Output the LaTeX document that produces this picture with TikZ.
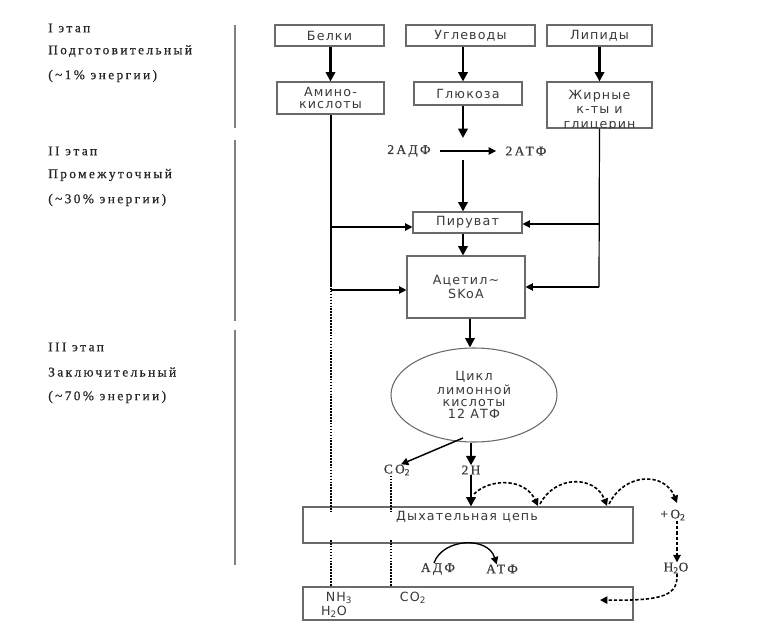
\documentclass[tikz,border=0pt]{standalone}
\usepackage{fontspec}
\usetikzlibrary{arrows.meta,shapes.geometric}
\newfontfamily\labfont[LetterSpace=18,FakeBold=0.6]{Liberation Serif}
\newfontfamily\boxfont[LetterSpace=9]{DejaVu Sans}
\definecolor{ink}{HTML}{3A3A3A}
\definecolor{boxline}{HTML}{6A6A6A}
\tikzset{
  stagetext/.style={anchor=west,inner sep=0pt,text=black!85,font=\labfont\fontsize{10}{12}\selectfont},
  stageline/.style={draw=gray,line width=1.2pt},
  blk/.style={draw=boxline,line width=0.8pt,text=ink,inner sep=1pt,align=center,
    font=\boxfont\fontsize{9.5}{11}\selectfont},
  serl/.style={inner sep=0pt,text=ink,font=\labfont\fontsize{10}{12}\selectfont},
  thickarr/.style={line width=1.8pt,-{Triangle[length=7pt,width=7pt]}},
  thinarr/.style={line width=0.9pt,-{Triangle[length=5.5pt,width=5.5pt]}},
  plainln/.style={line width=0.9pt},
  dotln/.style={line width=1.7pt,dash pattern=on 1.2pt off 1pt},
  dasharr/.style={line width=1.2pt,dash pattern=on 2.5pt off 1.5pt,-{Triangle[length=5.5pt,width=5.5pt]}},
}
\begin{document}
\begin{tikzpicture}[x=0.75pt,y=-0.75pt]
\useasboundingbox[fill=white] (0,0) rectangle (761,639);
% stage labels
\node[stagetext] (s1a) at (48,28) {I этап};
\node[stagetext] (s1b) at (48,51) {Подготовительный};
\node[stagetext] (s1c) at (48,76) {(\textasciitilde1\% энергии)};
\node[stagetext] (s2a) at (48,151) {II этап};
\node[stagetext] (s2b) at (48,175) {Промежуточный};
\node[stagetext] (s2c) at (48,200) {(\textasciitilde30\% энергии)};
\node[stagetext] (s3a) at (48,347) {III этап};
\node[stagetext] (s3b) at (48,372) {Заключительный};
\node[stagetext] (s3c) at (48,397) {(\textasciitilde70\% энергии)};
\coordinate (l1a) at (235,25); \coordinate (l1b) at (235,128);
\coordinate (l2a) at (235,140); \coordinate (l2b) at (235,321);
\coordinate (l3a) at (235,330); \coordinate (l3b) at (235,565);
\draw[stageline] (l1a) -- (l1b);
\draw[stageline] (l2a) -- (l2b);
\draw[stageline] (l3a) -- (l3b);
% boxes
\node[blk,minimum width={109*0.75},minimum height={21*0.75}] (bel) at (329.5,35.5) {Белки};
\node[blk,minimum width={129*0.75},minimum height={21*0.75}] (ugl) at (470.5,35.5) {Углеводы};
\node[blk,minimum width={105*0.75},minimum height={21*0.75}] (lip) at (599.5,35.5) {Липиды};
\node[blk,minimum width={107*0.75},minimum height={32*0.75}] (ami) at (330.5,98) {Амино-\\[-2pt]кислоты};
\node[blk,minimum width={108*0.75},minimum height={23*0.75}] (glu) at (468,93.5) {Глюкоза};
\node[blk,minimum width={105*0.75},minimum height={46*0.75}] (fat) at (599.5,105) {};
\begin{scope}
\clip (fat.south west) rectangle (fat.north east);
\node[blk,draw=none,anchor=north,font=\boxfont\fontsize{9.5}{11}\selectfont] (fattext) at ([yshift=-5]fat.north) {Жирные\\к-ты и\\глицерин};
\end{scope}
\node[blk,minimum width={109*0.75},minimum height={21*0.75}] (pyr) at (467.5,222.5) {Пируват};
\node[blk,minimum width={118*0.75},minimum height={62*0.75}] (ace) at (466,287) {Ацетил\textasciitilde\\SKoA};
\node[blk,ellipse,minimum width={166*0.75},minimum height={94*0.75},inner sep=0pt] (cyc) at (474,395) {Цикл\\[-1pt]лимонной\\[-2pt]кислоты\\[-2pt]12 АТФ};
\node[blk,minimum width={330*0.75},minimum height={36*0.75}] (resp) at (468,525) {};
\node[blk,draw=none,anchor=north] (resptext) at (467,509) {Дыхательная цепь};
\node[blk,minimum width={330*0.75},minimum height={33*0.75}] (fin) at (468,603.5) {};
\node[blk,draw=none,inner sep=0pt] (nh3) at (339,598) {NH\textsubscript{3}};
\node[blk,draw=none,inner sep=0pt] (h2ob) at (334,612) {H\textsubscript{2}O};
\node[blk,draw=none,inner sep=0pt] (co2b) at (413,598) {CO\textsubscript{2}};
% serif labels
\node[serl] (adp2) at (409,151) {2АДФ};
\node[serl] (atp2) at (526,151) {2АТФ};
\node[serl] (co2) at (397,470) {CO\textsubscript{2}};
\node[serl] (h2) at (471,470) {2H};
\node[serl] (adp) at (438,569) {АДФ};
\node[serl] (atp) at (502,569) {АТФ};
\node[serl] (o2) at (673,515) {+O\textsubscript{2}};
\node[serl] (h2o) at (676,568) {H\textsubscript{2}O};
% top arrows
\draw[thickarr] (bel.south -| ami.north) -- (ami.north);
\draw[thickarr] (ugl.south -| 463,0) -- (glu.north -| 463,0);
\draw[thickarr] (lip) -- (fat);
\coordinate (g1) at (463,138);
\coordinate (g2) at (463,160);
\draw[thickarr] (glu.south -| g1) -- (g1);
\draw[thinarr] ([xshift=7]adp2.east) -- ([xshift=-7]atp2.west);
\draw[thickarr] (g2) -- (pyr.north -| g2);
\draw[thickarr] (pyr.south -| g2) -- (ace.north -| g2);
\coordinate (ac1) at (470,0);
\draw[thickarr] (ace.south -| ac1) -- (cyc.north -| ac1);
% left amino line
\coordinate (am1) at (331,285);
\coordinate (am2) at (331,513);
\coordinate (am3) at (331,540);
\draw[plainln] (ami.south -| am1) -- (am1);
\draw[dotln] (am1) -- (am2);
\draw[dotln] (am3) -- (fin.north -| am3);
\draw[thinarr] (331,227) -- (pyr.west |- 0,227);
\draw[thinarr] (331,290) -- (ace.west |- 0,290);
% right fatty acid line
\coordinate (fa1) at (599,287);
\draw[plainln] (fat.south) -- (fa1);
\draw[thinarr] (599,224) -- (pyr.east |- 0,224);
\draw[thinarr] (fa1) -- (ace.east |- fa1);
% cycle outputs
\coordinate (cy1) at (463,438);
\draw[thinarr,line width=1.1pt] (cy1) -- ([xshift=3]co2.north);
\coordinate (h2x) at (471,0);
\draw[thickarr] (cyc.south -| h2x) -- (h2.north);
\draw[thickarr] (h2.south) -- (resp.north -| h2x);
\coordinate (cd1) at (391,513);
\coordinate (cd2) at (391,540);
\draw[dotln] (co2.south -| cd1) -- (cd1);
\draw[dotln] (cd2) -- (fin.north -| cd2);
% electron transport arcs
\coordinate (e0) at (474,494);
\coordinate (e1) at (538,506);
\coordinate (e1b) at (540,504);
\coordinate (e2) at (607,506);
\coordinate (e2b) at (609,504);
\coordinate (e3) at (677,503);
\draw[dasharr] (e0) .. controls (490,478) and (525,478) .. (e1);
\draw[dasharr] (e1b) .. controls (555,475) and (595,475) .. (e2);
\draw[dasharr] (e2b) .. controls (625,472) and (665,472) .. (e3);
\draw[dasharr] (o2.south -| e3) -- (h2o.north -| e3);
\coordinate (w1) at (600,600);
\draw[dasharr] (h2o.south -| e3) .. controls (678,595) and (665,601) .. (w1);
% ADP -> ATP
\draw[thinarr,line width=1pt] ([xshift=-3]adp.north) .. controls (443,538) and (488,536) .. ([xshift=-4]atp.north);
\end{tikzpicture}
\end{document}
